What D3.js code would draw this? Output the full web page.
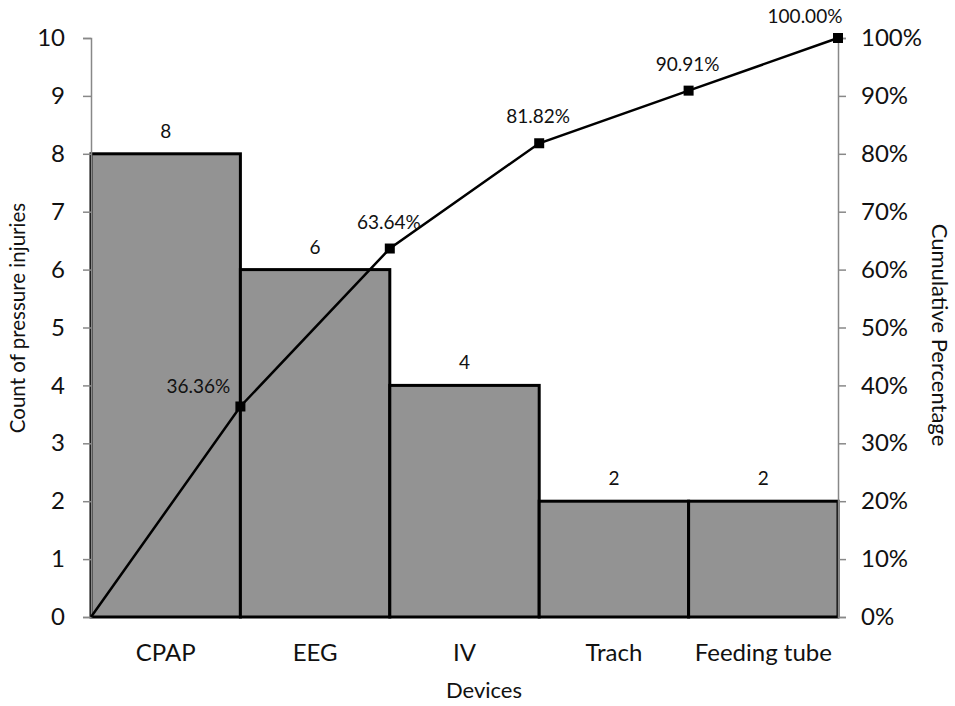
<!DOCTYPE html>
<html><head><meta charset="utf-8">
<script src="https://cdn.jsdelivr.net/npm/d3@7"></script>
<style>body{margin:0;background:#fff}svg{display:block}text{font-family:Lato,"Open Sans",sans-serif;fill:#111}</style>
</head><body><svg id="c" width="955" height="706"></svg>
<script>
const categories = ["CPAP","EEG","IV","Trach","Feeding tube"];
const counts = [8,6,4,2,2];
const cumulative = [36.36,63.64,81.82,90.91,100.00];
const leftTicks = [0,1,2,3,4,5,6,7,8,9,10];
const rightTicks = [0,10,20,30,40,50,60,70,80,90,100];

const svg = d3.select("#c");
const L=91, R=838, T=38, B=617;
const x = d3.scaleBand().domain(categories).range([L,R]).padding(0);
const y = d3.scaleLinear().domain([0,10]).range([B,T]);
const y2 = d3.scaleLinear().domain([0,100]).range([B,T]);

// bars
svg.append("g").selectAll("rect").data(counts).join("rect")
  .attr("x",(d,i)=>x(categories[i])).attr("y",d=>y(d))
  .attr("width",x.bandwidth()).attr("height",d=>B-y(d))
  .attr("fill","#939393").attr("stroke","#000").attr("stroke-width",3);

// axes
const ax = d3.axisLeft(y).tickValues(leftTicks).tickSize(8).tickPadding(18);
const gL = svg.append("g").attr("transform",`translate(${L},0)`).call(ax);
const ar = d3.axisRight(y2).tickValues(rightTicks).tickSize(8).tickPadding(15).tickFormat(d=>d+"%");
const gR = svg.append("g").attr("transform",`translate(${R},0)`).call(ar);
[gL,gR].forEach(g=>{
  g.select(".domain").attr("stroke","#888").attr("stroke-width",1.5);
  g.selectAll(".tick line").attr("stroke","#888").attr("stroke-width",1.5);
  g.selectAll(".tick text").attr("font-size",24).attr("fill","#111").attr("font-family","Lato");
});
// bottom axis labels
svg.append("g").selectAll("text").data(categories).join("text")
  .attr("x",d=>x(d)+x.bandwidth()/2).attr("y",661).attr("text-anchor","middle")
  .attr("font-size",24).text(d=>d);

// bar value labels
svg.append("g").selectAll("text").data(counts).join("text")
  .attr("x",(d,i)=>x(categories[i])+x.bandwidth()/2).attr("y",d=>y(d)-16)
  .attr("text-anchor","middle").attr("font-size",19).text(d=>d);

// cumulative line
const pts = [[L,0]].concat(cumulative.map((v,i)=>[x(categories[i])+x.bandwidth(),v]));
svg.append("path").datum(pts)
  .attr("d",d3.line().x(d=>d[0]).y(d=>y2(d[1])))
  .attr("fill","none").attr("stroke","#000").attr("stroke-width",2.5);
svg.append("g").selectAll("rect").data(cumulative).join("rect")
  .attr("x",(d,i)=>x(categories[i])+x.bandwidth()-5).attr("y",d=>y2(d)-5)
  .attr("width",10).attr("height",10).attr("fill","#000");
const lblOff = [[-42,-13],[-1,-20],[-1,-20],[-1,-20],[-33,-15]];
svg.append("g").selectAll("text").data(cumulative).join("text")
  .attr("x",(d,i)=>x(categories[i])+x.bandwidth()+lblOff[i][0])
  .attr("y",(d,i)=>y2(d)+lblOff[i][1])
  .attr("text-anchor","middle").attr("font-size",19).text(d=>d.toFixed(2)+"%");

// titles
svg.append("text").attr("x",484).attr("y",698).attr("text-anchor","middle").attr("font-size",22).text("Devices");
svg.append("text").attr("transform","translate(25,318) rotate(-90)").attr("text-anchor","middle").attr("font-size",20.5).text("Count of pressure injuries");
svg.append("text").attr("transform","translate(932,335) rotate(90)").attr("text-anchor","middle").attr("font-size",22).text("Cumulative Percentage");
</script></body></html>
